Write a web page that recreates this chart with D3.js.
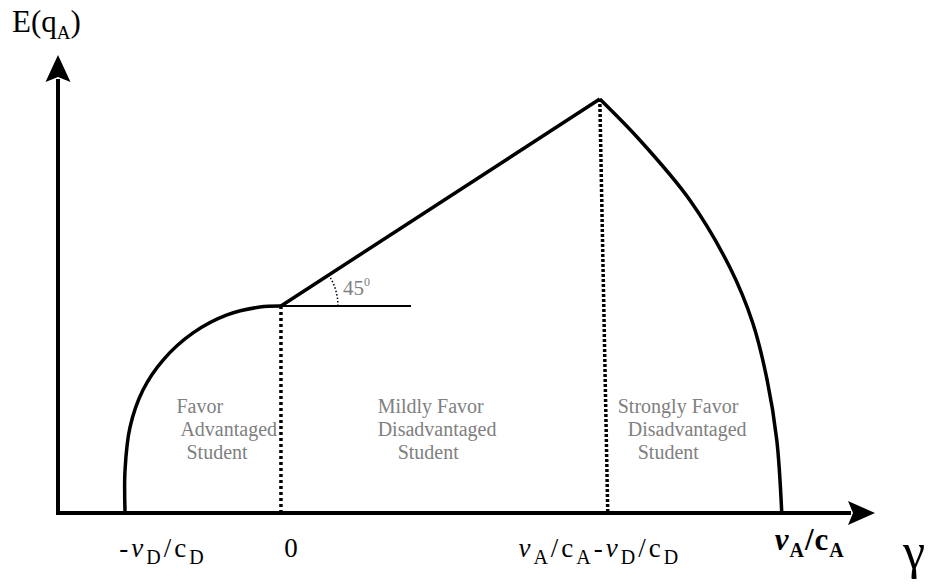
<!DOCTYPE html>
<html>
<head>
<meta charset="UTF-8">
<title>Expected quality vs gamma</title>
<style>
  body { margin: 0; background: #fff; }
  svg { display: block; background: #fff; }
  text { font-family: "Liberation Serif", "DejaVu Serif", serif; }
  .axis { stroke: #000; stroke-width: 4px; fill: none; }
  .curve { stroke: #000; stroke-width: 3.5px; fill: none; }
  .region { fill: #808080; font-size: 20px; }
</style>
</head>
<body>
<script src="https://d3js.org/d3.v7.min.js"></script>
<script>
// gamma (x) and E(q_A) (y) values for the three pieces of the curve
var leftGamma  = [-1.0, -1.0, -0.968, -0.885, -0.756, -0.564, -0.346, -0.135, 0];
var leftE      = [0, 0.208, 0.415, 0.594, 0.739, 0.870, 0.957, 0.995, 1.0];
var midGamma   = [0, 2.045];
var midE       = [1.0, 2.0];
var rightGamma = [2.045, 2.301, 2.622, 2.878, 3.026, 3.118, 3.180, 3.212];
var rightE     = [2.0, 1.802, 1.512, 1.188, 0.918, 0.643, 0.353, 0];

// dotted dividers between regions
var divider1Gamma = [0, 0];
var divider1E     = [1.0, 0];
var divider2Gamma = [2.045, 2.096];
var divider2E     = [2.0, 0];

// tick labels on the gamma axis
var tickValues = [-1, 0, 2.045, 3.212];
var tickLabels = [
  [["-", ""], ["v", "it"], ["D", "sub"], ["/c", ""], ["D", "sub"]],
  [["0", ""]],
  [["v", "it"], ["A", "sub"], ["/c", ""], ["A", "sub"], ["-", ""], ["v", "it"], ["D", "sub"], ["/c", ""], ["D", "sub"]],
  [["v", "bit"], ["A", "bsub"], ["/c", "b"], ["A", "bsub"]]
];

// region labels
var regionNames = [
  ["Favor", " Advantaged", "  Student"],
  ["Mildly Favor", "Disadvantaged", "    Student"],
  ["Strongly Favor", "  Disadvantaged", "    Student"]
];
var regionGamma = [-0.67, 0.62, 2.16];

var width = 933, height = 584;

var svg = d3.select("body").append("svg")
    .attr("width", width)
    .attr("height", height);

var x = d3.scaleLinear().domain([-1.43, 3.81]).range([58, 875]);
var y = d3.scaleLinear().domain([0, 2.2126]).range([513, 55]);

function zip(a, b) { return a.map(function(v, i) { return [v, b[i]]; }); }

var line = d3.line()
    .x(function(d) { return x(d[0]); })
    .y(function(d) { return y(d[1]); });

var smooth = d3.line()
    .x(function(d) { return x(d[0]); })
    .y(function(d) { return y(d[1]); })
    .curve(d3.curveCatmullRom.alpha(0.5));

// axes
var x0 = x(-1.43), y0 = y(0);
svg.append("line").attr("class", "axis")
    .attr("x1", x0).attr("y1", y0 + 2).attr("x2", x0).attr("y2", y(2.2126) + 24);
svg.append("line").attr("class", "axis")
    .attr("x1", x0 - 2).attr("y1", y0).attr("x2", x(3.81) - 24).attr("y2", y0);

var yTop = y(2.2126), xEnd = x(3.81);
svg.append("path")
    .attr("d", "M" + x0 + "," + yTop + "L" + (x0 + 12.5) + "," + (yTop + 27) +
               "L" + x0 + "," + (yTop + 22) + "L" + (x0 - 12.5) + "," + (yTop + 27) + "Z")
    .attr("fill", "#000");
svg.append("path")
    .attr("d", "M" + xEnd + "," + y0 + "L" + (xEnd - 27) + "," + (y0 - 12) +
               "L" + (xEnd - 22) + "," + y0 + "L" + (xEnd - 27) + "," + (y0 + 12) + "Z")
    .attr("fill", "#000");

// dividers
svg.append("path")
    .attr("d", line(zip(divider1Gamma, divider1E)))
    .attr("stroke", "#000").attr("stroke-width", 3.5)
    .attr("stroke-dasharray", "3,3").attr("fill", "none");
svg.append("path")
    .attr("d", line(zip(divider2Gamma, divider2E)))
    .attr("stroke", "#000").attr("stroke-width", 3.5)
    .attr("stroke-dasharray", "3,2").attr("fill", "none");

// horizontal reference + 45 degree marker
var kx = x(0), ky = y(1);
svg.append("line")
    .attr("x1", kx).attr("y1", ky).attr("x2", x(0.834)).attr("y2", ky)
    .attr("stroke", "#000").attr("stroke-width", 2);
var ang = Math.atan2(y(1) - y(2), x(2.045) - x(0));
var r = 57;
svg.append("path")
    .attr("d", "M" + (kx + r) + "," + ky + "A" + r + "," + r + " 0 0 0 " +
               (kx + r * Math.cos(ang)) + "," + (ky - r * Math.sin(ang)))
    .attr("stroke", "#000").attr("stroke-width", 1.5)
    .attr("stroke-dasharray", "1.5,2").attr("fill", "none");
var deg = svg.append("text")
    .attr("x", kx + 62).attr("y", ky - 11)
    .attr("fill", "#808080").attr("font-size", 21);
deg.append("tspan").text("45");
deg.append("tspan").attr("dy", -9).attr("font-size", 12).text("0");

// curve
svg.append("path").attr("class", "curve").attr("d", smooth(zip(leftGamma, leftE)));
svg.append("path").attr("class", "curve").attr("d", line(zip(midGamma, midE)));
svg.append("path").attr("class", "curve").attr("d", smooth(zip(rightGamma, rightE)));

// region labels
regionNames.forEach(function(lines, i) {
  var t = svg.append("text").attr("class", "region")
      .attr("xml:space", "preserve")
      .attr("x", x(regionGamma[i])).attr("y", 413);
  lines.forEach(function(s, j) {
    t.append("tspan").attr("x", x(regionGamma[i])).attr("y", 413 + j * 23).text(s);
  });
});

// tick labels
var tickOffset = [38, 10, 0, 28];
var tickSize = [27, 27, 27, 31];
var tickSpacing = [3, 0, 3, 1];
tickValues.forEach(function(v, i) {
  var t = svg.append("text")
      .attr("x", x(v) + tickOffset[i]).attr("y", i === 3 ? 550 : 557)
      .attr("text-anchor", "middle")
      .attr("letter-spacing", tickSpacing[i])
      .attr("font-size", tickSize[i]);
  var shifted = 0;
  tickLabels[i].forEach(function(p) {
    var s = t.append("tspan").text(p[0]);
    var isSub = p[1].indexOf("sub") >= 0;
    var dy = (isSub ? 7 : 0) - shifted;
    shifted = isSub ? 7 : 0;
    if (dy) s.attr("dy", dy);
    if (isSub) s.attr("font-size", 20);
    if (p[1].indexOf("it") >= 0) s.attr("font-style", "italic");
    if (p[1].charAt(0) === "b") s.attr("font-weight", "bold");
  });
});

// axis titles
var ey = svg.append("text").attr("x", 12).attr("y", 32).attr("font-size", 31);
ey.append("tspan").text("E(q");
ey.append("tspan").attr("dy", 7).attr("font-size", 19).text("A");
ey.append("tspan").attr("dy", -7).text(")");

svg.append("text").attr("x", 903).attr("y", 568).attr("font-size", 50).text("γ");
</script>
</body>
</html>
